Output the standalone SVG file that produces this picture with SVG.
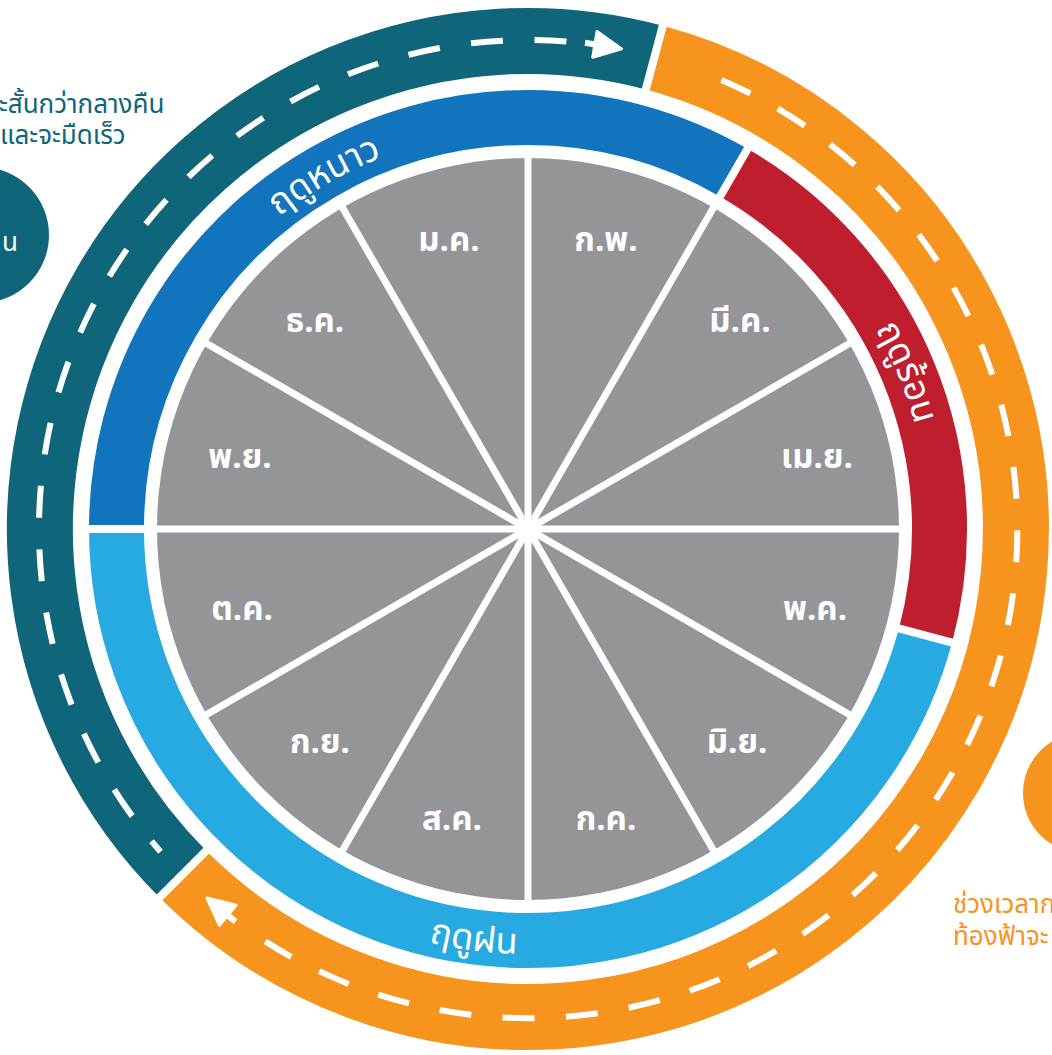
<svg xmlns="http://www.w3.org/2000/svg" width="1052" height="1055" viewBox="0 0 1052 1055">
<defs>
<style>
.month{font-family:"Noto Sans Thai","Noto Sans","DejaVu Sans",sans-serif;font-size:33px;font-weight:bold;fill:#fff;text-anchor:middle}
.season{font-family:"Noto Sans Thai","Noto Sans","DejaVu Sans",sans-serif;font-size:36px;fill:#fff;text-anchor:middle}
.sep{stroke:#fff;stroke-width:8;fill:none}
.dash{fill:none;stroke:#fff;stroke-width:6}
.note{font-family:"Noto Sans Thai","Noto Sans","DejaVu Sans",sans-serif;font-size:26px}
</style>
<path id="pWinter" d="M134.1,459.5 A401,401 0 0 1 664.8,153.1"/>
<path id="pSummer" d="M648.6,146.6 A401,401 0 0 1 883.7,714.1"/>
<path id="pRain" d="M169.6,757.4 A425,425 0 0 0 815.1,842.4"/>
<g id="arrowShape">
<line x1="504" y1="40" x2="518" y2="40" stroke="#fff" stroke-width="6"/>
<polygon points="514,27 541,40 514,53" fill="#fff" stroke="#fff" stroke-width="3" stroke-linejoin="round"/>
</g>
</defs>
<rect width="1052" height="1055" fill="#fff"/>

<g id="outer-ring">
<path d="M182.9,874.1 A488,488 0 0 1 654.3,57.6" fill="none" stroke="#0F6579" stroke-width="66"/>
<path d="M654.3,57.6 A488,488 0 1 1 182.9,874.1" fill="none" stroke="#F7941E" stroke-width="66"/>
<line class="sep" x1="644.5" y1="94.3" x2="664.1" y2="20.9"/>
<line class="sep" x1="209.8" y1="847.2" x2="156.1" y2="900.9"/>
</g>

<g id="connectors">
<path class="dash" d="M160.6,851.7 A489,489 0 0 1 566.4,41.5" stroke-dasharray="32 31.6" stroke-dashoffset="18"/>
<use href="#arrowShape" transform="rotate(9.5 528 529)"/>
<path class="dash" d="M721.4,79.9 A489,489 0 1 1 265.3,941.4" stroke-dasharray="32 31.4"/>
<use href="#arrowShape" transform="rotate(219.5 528 529)"/>
</g>

<g id="seasons">
<path d="M116.5,529 A411.5,411.5 0 0 1 733.75,172.6" fill="none" stroke="#1174BC" stroke-width="55"/>
<path d="M733.75,172.6 A411.5,411.5 0 0 1 925.5,635.5" fill="none" stroke="#BE1E2D" stroke-width="55"/>
<path d="M925.5,635.5 A411.5,411.5 0 0 1 116.5,529" fill="none" stroke="#27AAE1" stroke-width="55"/>
<line class="sep" x1="718" y1="199.9" x2="749.5" y2="145.4"/>
<line class="sep" x1="895" y1="627.4" x2="955.9" y2="643.7"/>
<line class="sep" x1="148" y1="529" x2="85" y2="529"/>
</g>
<g id="season-winter"><text class="season"><textPath href="#pWinter" startOffset="50%">ฤดูหนาว</textPath></text></g>
<g id="season-summer"><text class="season"><textPath href="#pSummer" startOffset="50%">ฤดูร้อน</textPath></text></g>
<g id="season-rain"><text class="season"><textPath href="#pRain" startOffset="50%">ฤดูฝน</textPath></text></g>

<g id="pie">
<circle cx="528" cy="529" r="371" fill="#939598"/>
<g stroke="#fff" stroke-width="7">
<line x1="528" y1="157" x2="528" y2="901"/>
<line x1="714" y1="206.8" x2="342" y2="851.2"/>
<line x1="850.2" y1="343" x2="205.8" y2="715"/>
<line x1="900" y1="529" x2="156" y2="529"/>
<line x1="850.2" y1="715" x2="205.8" y2="343"/>
<line x1="714" y1="851.2" x2="342" y2="206.8"/>
</g>
<circle cx="528" cy="529" r="9" fill="#fff"/>
</g>

<g id="m01"><text class="month" x="449" y="251">ม.ค.</text></g>
<g id="m02"><text class="month" x="606" y="251">ก.พ.</text></g>
<g id="m03"><text class="month" x="740" y="332">มี.ค.</text></g>
<g id="m04"><text class="month" x="817" y="468">เม.ย.</text></g>
<g id="m05"><text class="month" x="815" y="620">พ.ค.</text></g>
<g id="m06"><text class="month" x="737" y="753">มิ.ย.</text></g>
<g id="m07"><text class="month" x="606" y="830">ก.ค.</text></g>
<g id="m08"><text class="month" x="452" y="830">ส.ค.</text></g>
<g id="m09"><text class="month" x="320" y="753">ก.ย.</text></g>
<g id="m10"><text class="month" x="242" y="620">ต.ค.</text></g>
<g id="m11"><text class="month" x="240" y="468">พ.ย.</text></g>
<g id="m12"><text class="month" x="315" y="332">ธ.ค.</text></g>

<g id="night-note">
<circle cx="-19" cy="235" r="68" fill="#0F6579"/>
<text class="note" x="18" y="251" fill="#fff" font-size="40" text-anchor="end">น</text>
<text class="note" x="-1" y="113" fill="#0F6579">ะสั้นกว่ากลางคืน</text>
<text class="note" x="0" y="144" fill="#0F6579">และจะมืดเร็ว</text>
</g>
<g id="day-note">
<circle cx="1083" cy="793" r="60" fill="#F7941E"/>
<text class="note" x="953" y="913" fill="#F7941E">ช่วงเวลาก</text>
<text class="note" x="953" y="945" fill="#F7941E">ท้องฟ้าจะ</text>
</g>
</svg>
